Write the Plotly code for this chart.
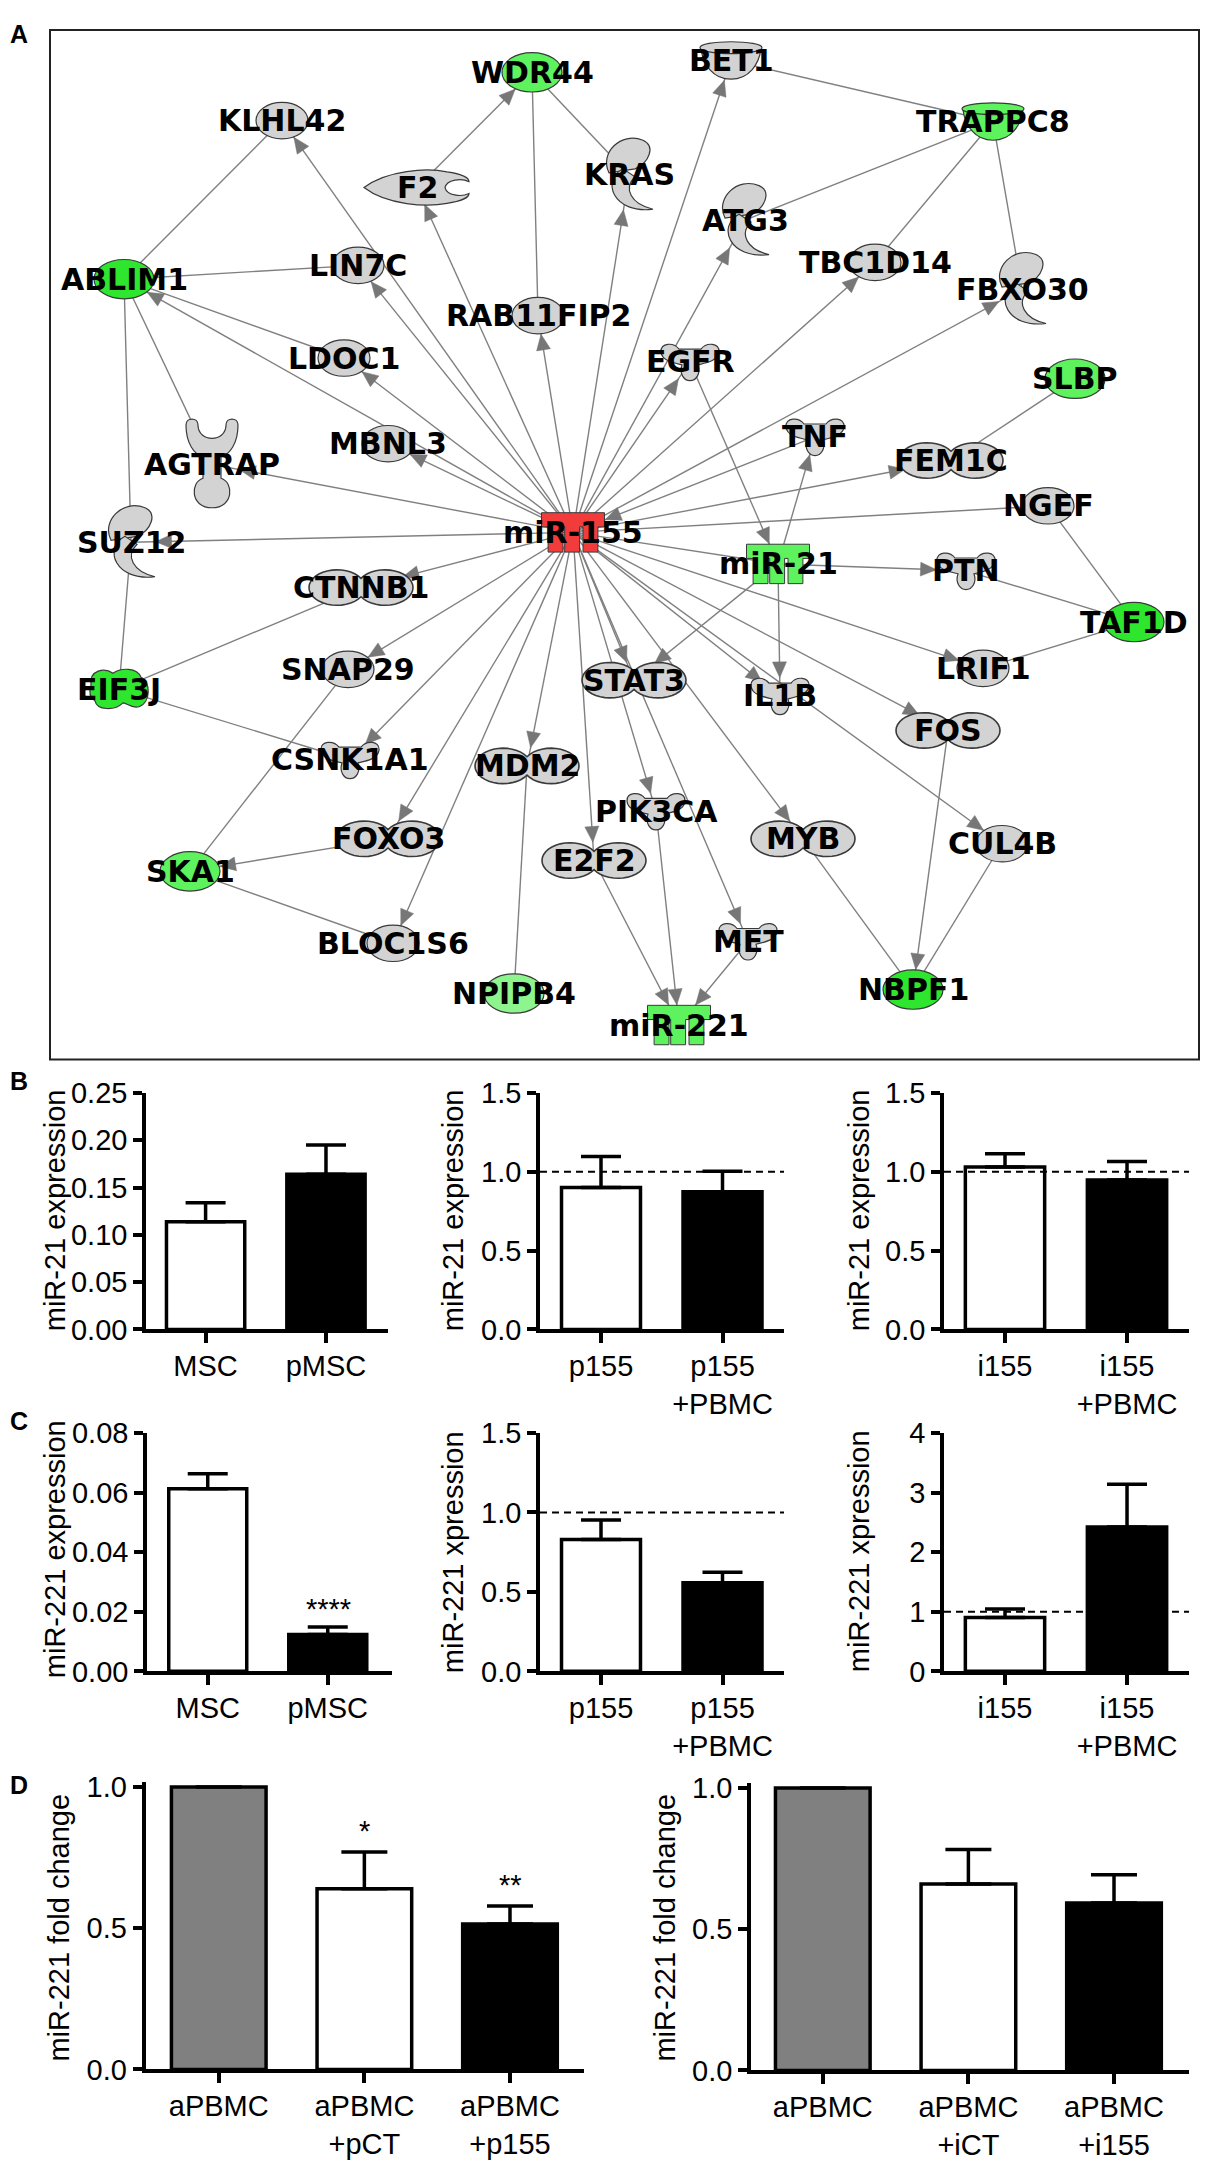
import math
import plotly.graph_objects as go

PAGE_W, PAGE_H = 1210, 2180
BODY_MARGIN = 8                      # default <body> margin of the browser page
FIG_W = PAGE_W - 2 * BODY_MARGIN
FIG_H = PAGE_H - BODY_MARGIN

# ---------------- Panel A: interaction network (layout coordinates) ----------------
node_names = ["WDR44", "BET1", "KLHL42", "TRAPPC8", "F2", "KRAS", "ATG3", "ABLIM1", "LIN7C", "TBC1D14",
              "FBXO30", "RAB11FIP2", "LDOC1", "EGFR", "SLBP", "MBNL3", "TNF", "FEM1C", "AGTRAP", "NGEF",
              "miR-155", "SUZ12", "miR-21", "PTN", "CTNNB1", "TAF1D", "SNAP29", "EIF3J", "STAT3", "IL1B",
              "LRIF1", "FOS", "CSNK1A1", "MDM2", "PIK3CA", "MYB", "CUL4B", "FOXO3", "E2F2", "SKA1",
              "BLOC1S6", "MET", "NPIPB4", "NBPF1", "miR-221"]
node_x = [532, 731, 282, 993, 417, 629, 745, 124, 358, 875,
          1022, 538, 344, 690, 1075, 388, 815, 951, 212, 1048,
          573, 131, 778, 966, 361, 1134, 348, 119, 634, 780,
          983, 948, 350, 527, 656, 803, 1002, 388, 594, 190,
          393, 748, 514, 913, 679]
node_y = [57, 45, 106, 107, 174, 161, 207, 267, 253, 250,
          277, 304, 347, 351, 368, 434, 427, 451, 455, 497,
          524, 534, 556, 563, 580, 615, 663, 683, 674, 690,
          662, 725, 755, 761, 807, 835, 840, 835, 857, 868,
          941, 939, 992, 988, 1024]
node_kind = ["ellipse", "cup", "ellipse", "cup", "peptidase", "enzyme", "enzyme", "ellipse", "ellipse", "ellipse",
             "enzyme", "ellipse", "ellipse", "cytokine", "ellipse", "ellipse", "cytokine", "complex", "receptor", "ellipse",
             "mirna", "enzyme", "mirna", "cytokine", "complex", "ellipse", "ellipse", "blob", "complex", "cytokine",
             "ellipse", "complex", "cytokine", "complex", "cytokine", "complex", "ellipse", "complex", "complex", "ellipse",
             "ellipse", "cytokine", "ellipse", "ellipse", "mirna"]
node_regulation = ["down", "none", "none", "down", "none", "none", "none", "down_strong", "none", "none",
                   "none", "none", "none", "none", "down", "none", "none", "none", "none", "none",
                   "up", "none", "down", "none", "none", "down_strong", "none", "down_strong", "none", "none",
                   "none", "none", "none", "none", "none", "none", "none", "none", "none", "down",
                   "none", "none", "down_weak", "down_strong", "down"]

arrow_edges = [("miR-155", "KLHL42"), ("miR-155", "F2"), ("miR-155", "LIN7C"), ("miR-155", "RAB11FIP2"),
               ("miR-155", "LDOC1"), ("miR-155", "ABLIM1"), ("miR-155", "MBNL3"), ("miR-155", "AGTRAP"),
               ("miR-155", "SUZ12"), ("miR-155", "KRAS"), ("miR-155", "BET1"), ("miR-155", "ATG3"),
               ("miR-155", "EGFR"), ("miR-155", "TBC1D14"), ("miR-155", "FBXO30"), ("miR-155", "FEM1C"),
               ("miR-155", "LRIF1"), ("miR-155", "FOS"), ("miR-155", "IL1B"), ("miR-155", "CUL4B"),
               ("miR-155", "STAT3"), ("miR-155", "MYB"), ("miR-155", "PIK3CA"), ("miR-155", "MET"),
               ("miR-155", "E2F2"), ("miR-155", "MDM2"), ("miR-155", "BLOC1S6"), ("miR-155", "FOXO3"),
               ("miR-155", "CSNK1A1"), ("miR-155", "SNAP29"), ("miR-155", "CTNNB1"),
               ("TNF", "miR-155"), ("F2", "WDR44"), ("EGFR", "miR-21"), ("miR-21", "TNF"), ("miR-21", "PTN"),
               ("miR-21", "IL1B"), ("miR-21", "STAT3"), ("MET", "miR-221"), ("PIK3CA", "miR-221"),
               ("E2F2", "miR-221"), ("FOXO3", "SKA1"), ("FOS", "NBPF1")]
plain_edges = [("WDR44", "RAB11FIP2"), ("WDR44", "KRAS"), ("BET1", "TRAPPC8"), ("TRAPPC8", "ATG3"),
               ("TRAPPC8", "TBC1D14"), ("TRAPPC8", "FBXO30"), ("SLBP", "FEM1C"), ("NGEF", "miR-155"),
               ("NGEF", "TAF1D"), ("miR-155", "miR-21"), ("PTN", "TAF1D"), ("TAF1D", "LRIF1"),
               ("MDM2", "NPIPB4"), ("SKA1", "BLOC1S6"), ("SKA1", "SNAP29"), ("CSNK1A1", "EIF3J"),
               ("CTNNB1", "EIF3J"), ("EIF3J", "SUZ12"), ("SUZ12", "ABLIM1"), ("ABLIM1", "KLHL42"),
               ("ABLIM1", "LIN7C"), ("ABLIM1", "LDOC1"), ("ABLIM1", "AGTRAP"), ("MYB", "NBPF1"),
               ("CUL4B", "NBPF1")]

# ---------------- Panels B-D: bar chart data ----------------
b1_cats = ["MSC", "pMSC"]
b1_vals = [0.114, 0.164]
b1_errs = [0.020, 0.031]
b1_ticks = [0.0, 0.05, 0.10, 0.15, 0.20, 0.25]

b2_cats = ["p155", "p155<br>+PBMC"]
b2_vals = [0.90, 0.873]
b2_errs = [0.197, 0.131]

b3_cats = ["i155", "i155<br>+PBMC"]
b3_vals = [1.03, 0.948]
b3_errs = [0.085, 0.118]

c1_cats = ["MSC", "pMSC"]
c1_vals = [0.0613, 0.0124]
c1_errs = [0.0050, 0.0025]
c1_ticks = [0.0, 0.02, 0.04, 0.06, 0.08]

c2_cats = ["p155", "p155<br>+PBMC"]
c2_vals = [0.83, 0.557]
c2_errs = [0.123, 0.066]

c3_cats = ["i155", "i155<br>+PBMC"]
c3_vals = [0.905, 2.42]
c3_errs = [0.143, 0.72]
c3_ticks = [0, 1, 2, 3, 4]

d1_cats = ["aPBMC", "aPBMC<br>+pCT", "aPBMC<br>+p155"]
d1_vals = [1.0, 0.64, 0.515]
d1_errs = [0.0, 0.13, 0.064]

d2_cats = ["aPBMC", "aPBMC<br>+iCT", "aPBMC<br>+i155"]
d2_vals = [1.0, 0.66, 0.593]
d2_errs = [0.0, 0.122, 0.10]

fold_ticks = [0.0, 0.5, 1.0, 1.5]
d_ticks = [0.0, 0.5, 1.0]
reference_level = 1.0

# ---------------- styles ----------------
FILL = {"up": "#f23c3c", "down_strong": "#2ee62e", "down": "#5ef25e", "down_weak": "#8ef48e", "none": "#d3d3d3"}
OUTLINE = "#3a3a3a"
EDGE_COLOR = "#808080"
LABEL_FONT = dict(family="DejaVu Sans, Arial, sans-serif", size=30, color="black")
TXT_FONT = "Liberation Sans, Arial, Helvetica, sans-serif"


def dom_x(p0, p1):
    return [(p0 - BODY_MARGIN) / FIG_W, (p1 - BODY_MARGIN) / FIG_W]


def dom_y(p_bottom, p_top):
    return [1 - (p_bottom - BODY_MARGIN) / FIG_H, 1 - (p_top - BODY_MARGIN) / FIG_H]


pos = {n: (x, y) for n, x, y in zip(node_names, node_x, node_y)}
kind = dict(zip(node_names, node_kind))
reg = dict(zip(node_names, node_regulation))

KIND_RADII = {"complex": (52, 18), "cup": (31, 20), "peptidase": (53, 17), "enzyme": (24, 36),
              "cytokine": (29, 18), "receptor": (27, 44), "blob": (30, 20), "mirna": (31.5, 20)}


def radii(n):
    if kind[n] == "ellipse":
        return (30, 20) if reg[n] != "none" else (26, 18.5)
    return KIND_RADII[kind[n]]


def boundary(n, ux, uy):
    a, b = radii(n)
    if kind[n] == "mirna":
        return min(a / abs(ux) if abs(ux) > 1e-9 else 1e9, b / abs(uy) if abs(uy) > 1e-9 else 1e9)
    return 1.0 / math.sqrt((ux / a) ** 2 + (uy / b) ** 2)


fig = go.Figure()

# edges (drawn under the node shapes)
ex, ey = [], []
for s, t in arrow_edges + plain_edges:
    ex += [pos[s][0], pos[t][0], None]
    ey += [pos[s][1], pos[t][1], None]
fig.add_trace(go.Scatter(x=ex, y=ey, mode="lines", line=dict(color=EDGE_COLOR, width=1.4),
                         hoverinfo="skip", showlegend=False, xaxis="x", yaxis="y"))

# arrow heads at the target boundary
hx, hy = [], []
for s, t in arrow_edges:
    dx, dy = pos[t][0] - pos[s][0], pos[t][1] - pos[s][1]
    L = math.hypot(dx, dy)
    ux, uy = dx / L, dy / L
    r = boundary(t, ux, uy) + 0.5
    tx, ty = pos[t][0] - ux * r, pos[t][1] - uy * r
    bx, by = tx - ux * 16, ty - uy * 16
    px, py = -uy, ux
    hx += [tx, bx + px * 7, bx - px * 7, tx, None]
    hy += [ty, by + py * 7, by - py * 7, ty, None]
fig.add_trace(go.Scatter(x=hx, y=hy, mode="lines", fill="toself", fillcolor="#777777",
                         line=dict(color="#777777", width=0.5), hoverinfo="skip", showlegend=False,
                         xaxis="x", yaxis="y"))

shapes = []
annotations = []


def rel_path(cx, cy, cmds):
    parts = []
    for letter, coords in cmds:
        if letter == "Z":
            parts.append("Z")
            continue
        pts = [f"{cx + coords[i]:.1f},{cy + coords[i + 1]:.1f}" for i in range(0, len(coords), 2)]
        parts.append(letter + " " + " ".join(pts))
    return " ".join(parts)


def add_path(path, fill, lw=1.2):
    shapes.append(dict(type="path", path=path, xref="x", yref="y", fillcolor=fill,
                       line=dict(color=OUTLINE, width=lw), layer="above"))


def add_ellipse(cx, cy, a, b, fill, lw=1.2):
    shapes.append(dict(type="circle", xref="x", yref="y", x0=cx - a, x1=cx + a, y0=cy - b, y1=cy + b,
                       fillcolor=fill, line=dict(color=OUTLINE, width=lw), layer="above"))


def complex_path(cx, cy):
    off, a, b = 24, 28, 18
    t0 = math.acos(off / a)
    pts = []
    n = 30
    for i in range(n + 1):
        t = t0 + (2 * math.pi - 2 * t0) * i / n
        pts.append((cx - off + a * math.cos(t), cy + b * math.sin(t)))
    for i in range(n + 1):
        s = math.pi + t0 + (2 * math.pi - 2 * t0) * i / n
        pts.append((cx + off + a * math.cos(s), cy + b * math.sin(s)))
    return "M " + " L ".join(f"{x:.1f},{y:.1f}" for x, y in pts) + " Z"


def mirna_path(cx, cy, w=63, h=40):
    x0, y0 = cx - w / 2, cy - h / 2
    band = 0.36
    rel = [(0, 0), (1, 0), (1, band), (0.895, band), (0.895, 1), (0.658, 1), (0.658, band),
           (0.605, band), (0.605, 1), (0.368, 1), (0.368, band), (0.342, band), (0.342, 1),
           (0.105, 1), (0.105, band), (0, band)]
    return "M " + " L ".join(f"{x0 + fx * w:.1f},{y0 + fy * h:.1f}" for fx, fy in rel) + " Z"


ENZ_TOP = [("M", [-20, -2]), ("C", [-30, -22, -8, -44, 14, -35]), ("C", [27, -29, 20, -12, 6, -6]), ("Z", [])]
ENZ_BOT = [("M", [-6, -6]), ("C", [-28, 6, -16, 40, 24, 35]), ("C", [2, 30, -6, 14, 6, 2]), ("Z", [])]
CUP = [("M", [-30, -12]), ("C", [-28, 4, -18, 19, 0, 19]), ("C", [18, 19, 28, 4, 30, -12]), ("Z", [])]
PEPT = [("M", [-53, 0]), ("C", [-30, -18, 10, -20, 30, -16]), ("C", [44, -14, 52, -10, 52, -6]),
        ("C", [44, -10, 30, -8, 28, 0]), ("C", [30, 8, 44, 10, 52, 6]), ("C", [52, 10, 44, 14, 30, 16]),
        ("C", [10, 20, -30, 18, -53, 0]), ("Z", [])]
CYTO = [("M", [-29, -10]), ("C", [-30, -20, -16, -20, -11, -13]), ("L", [11, -13]),
        ("C", [16, -20, 30, -20, 29, -10]), ("C", [28, -1, 16, 1, 8, 3]), ("C", [11, 12, 6, 19, 0, 19]),
        ("C", [-6, 19, -11, 12, -8, 3]), ("C", [-16, 1, -28, -1, -29, -10]), ("Z", [])]
RECEPTOR = [("M", [-26, -40]), ("C", [-26, -48, -14, -48, -14, -40]), ("C", [-14, -22, 14, -22, 14, -40]),
            ("C", [14, -48, 26, -48, 26, -40]), ("C", [26, -22, 18, -10, 9, -8]), ("L", [9, 14]),
            ("C", [22, 18, 22, 44, 0, 44]), ("C", [-22, 44, -22, 18, -9, 14]), ("L", [-9, -8]),
            ("C", [-18, -10, -26, -22, -26, -40]), ("Z", [])]
BLOB = [("M", [-28, -4]), ("C", [-30, -20, -14, -22, -6, -16]), ("C", [2, -22, 18, -22, 22, -12]),
        ("C", [32, -8, 32, 14, 20, 18]), ("C", [12, 20, 8, 14, 4, 14]), ("C", [-4, 22, -22, 22, -24, 12]),
        ("C", [-30, 8, -30, 2, -28, -4]), ("Z", [])]

for n in node_names:
    cx, cy = pos[n]
    k = kind[n]
    fill = FILL[reg[n]]
    if k == "ellipse":
        a, b = radii(n)
        add_ellipse(cx, cy, a, b, fill)
    elif k == "complex":
        add_path(complex_path(cx, cy), fill, 1.6)
    elif k == "mirna":
        add_path(mirna_path(cx, cy), fill, 1.0)
    elif k == "enzyme":
        add_path(rel_path(cx, cy, ENZ_TOP), fill)
        add_path(rel_path(cx, cy, ENZ_BOT), fill)
    elif k == "cup":
        add_path(rel_path(cx, cy, CUP), fill)
        add_ellipse(cx, cy - 13, 31, 6, fill)
    elif k == "peptidase":
        add_path(rel_path(cx, cy, PEPT), fill)
    elif k == "cytokine":
        add_path(rel_path(cx, cy, CYTO), fill)
    elif k == "receptor":
        add_path(rel_path(cx, cy, RECEPTOR), fill)
    elif k == "blob":
        add_path(rel_path(cx, cy, BLOB), fill)
    annotations.append(dict(x=cx, y=cy, xref="x", yref="y", text=f"<b>{n}</b>", showarrow=False,
                            font=LABEL_FONT, xanchor="center", yanchor="middle"))

# panel A frame
shapes.append(dict(type="rect", xref="x", yref="y", x0=50, x1=1199, y0=14, y1=1059,
                   line=dict(color="#222222", width=2), fillcolor="rgba(0,0,0,0)", layer="below"))

layout = dict(
    width=FIG_W, height=FIG_H, margin=dict(l=0, r=0, t=0, b=0), paper_bgcolor="white",
    plot_bgcolor="rgba(0,0,0,0)", showlegend=False,
    font=dict(family=TXT_FONT, color="black", size=29),
    xaxis=dict(domain=[0, 1], range=[BODY_MARGIN, BODY_MARGIN + FIG_W], visible=False, fixedrange=True),
    yaxis=dict(domain=[0, 1], range=[BODY_MARGIN + FIG_H, BODY_MARGIN], visible=False, fixedrange=True),
)

# ---------------- bar charts ----------------
WHITE, BLACK, GREY = "white", "black", "#808080"
charts = [
    # idx, cats, vals, errs, fills, x-pixels, y-pixels(bottom, top), xrange, yrange, tickvals, fmt, dashed, cap
    (2, b1_cats, b1_vals, b1_errs, [WHITE, BLACK], (146, 387.5), (1333, 1093), (-0.495, 1.511), (0, 0.25), b1_ticks, ".2f", False, 20),
    (3, b2_cats, b2_vals, b2_errs, [WHITE, BLACK], (540, 784), (1333, 1093), (-0.502, 1.506), (0, 1.5), fold_ticks, ".1f", True, 20),
    (4, b3_cats, b3_vals, b3_errs, [WHITE, BLACK], (944, 1189), (1333, 1093), (-0.5, 1.508), (0, 1.5), fold_ticks, ".1f", True, 20),
    (5, c1_cats, c1_vals, c1_errs, [WHITE, BLACK], (147, 391.5), (1680, 1438), (-0.506, 1.531), (0, 0.08), c1_ticks, ".2f", False, 20),
    (6, c2_cats, c2_vals, c2_errs, [WHITE, BLACK], (540, 784), (1680, 1438), (-0.502, 1.506), (0, 1.5), fold_ticks, ".1f", True, 20),
    (7, c3_cats, c3_vals, c3_errs, [WHITE, BLACK], (944, 1189), (1680, 1438), (-0.5, 1.508), (0, 4), c3_ticks, "d", True, 20),
    (8, d1_cats, d1_vals, d1_errs, [GREY, WHITE, BLACK], (145.5, 584.4), (2084, 1792), (-0.503, 2.511), (0, 1.019), d_ticks, ".1f", False, 23),
    (9, d2_cats, d2_vals, d2_errs, [GREY, WHITE, BLACK], (751, 1189), (2085, 1793), (-0.493, 2.515), (0, 1.019), d_ticks, ".1f", False, 23),
]

for idx, cats, vals, errs, fills, xpx, ypx, xr, yr, tv, fmt, dashed, cap in charts:
    xa, ya = f"x{idx}", f"y{idx}"
    fig.add_trace(go.Bar(
        x=cats, y=vals, width=0.65, xaxis=xa, yaxis=ya, showlegend=False, hoverinfo="skip",
        marker=dict(color=fills, line=dict(color="black", width=3.5)),
        error_y=dict(type="data", symmetric=False, array=errs, arrayminus=[0] * len(errs),
                     color="black", thickness=3.5, width=cap),
    ))
    layout[f"xaxis{idx}"] = dict(
        domain=dom_x(*xpx), range=list(xr), anchor=ya, type="category",
        showline=True, linewidth=3.5, linecolor="black", ticks="outside", ticklen=10, tickwidth=3.5,
        tickcolor="black", showgrid=False, zeroline=False, fixedrange=True, ticklabelstandoff=-2,
        tickfont=dict(family=TXT_FONT, size=29, color="black"))
    layout[f"yaxis{idx}"] = dict(
        domain=dom_y(*ypx), range=list(yr), anchor=xa,
        showline=True, linewidth=3.5, linecolor="black", ticks="outside", ticklen=9, tickwidth=3.5,
        tickcolor="black", showgrid=False, zeroline=False, fixedrange=True,
        tickvals=tv, tickformat=fmt, tickfont=dict(family=TXT_FONT, size=29, color="black"))
    if dashed:
        shapes.append(dict(type="line", xref=f"{xa} domain", yref=ya, x0=0, x1=1,
                           y0=reference_level, y1=reference_level,
                           line=dict(color="black", width=2, dash="7px,5px"), layer="above"))

# axis titles
y_titles = [("miR-21 expression", 55, 1212), ("miR-21 expression", 453, 1212), ("miR-21 expression", 859, 1212),
            ("miR-221 expression", 55, 1556), ("miR-221 xpression", 453, 1559), ("miR-221 xpression", 859, 1558),
            ("miR-221 fold change", 59, 1940), ("miR-221 fold change", 665, 1940)]
for txt, x, y in y_titles:
    annotations.append(dict(x=x, y=y, xref="x", yref="y", text=txt, textangle=-90, showarrow=False,
                            font=dict(family=TXT_FONT, size=29, color="black"),
                            xanchor="center", yanchor="middle"))

# significance marks
for txt, x, y in [("****", 328, 1617), ("*", 364, 1842), ("**", 510, 1897)]:
    annotations.append(dict(x=x, y=y, xref="x", yref="y", text=txt, showarrow=False,
                            font=dict(family=TXT_FONT, size=29, color="black"),
                            xanchor="center", yanchor="middle"))

# panel letters
for txt, y in [("A", 18), ("B", 1081), ("C", 1426), ("D", 1795)]:
    annotations.append(dict(x=BODY_MARGIN, y=y, xref="x", yref="y", text=f"<b>{txt}</b>", showarrow=False,
                            font=dict(family=TXT_FONT, size=25, color="black"),
                            xanchor="left", yanchor="middle"))

layout["shapes"] = shapes
layout["annotations"] = annotations
fig.update_layout(**layout)
fig.write_html("out.html")
